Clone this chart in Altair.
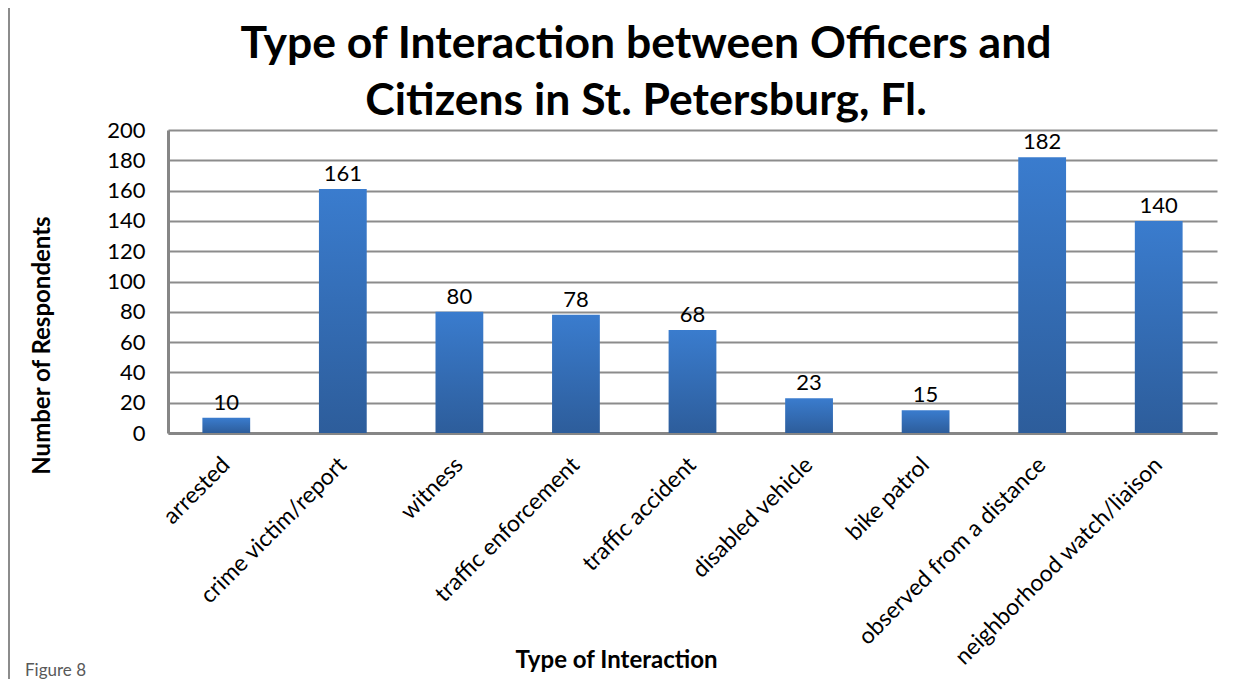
import altair as alt
import pandas as pd

categories = ["arrested", "crime victim/report", "witness", "traffic enforcement",
              "traffic accident", "disabled vehicle", "bike patrol",
              "observed from a distance", "neighborhood watch/liaison"]
respondents = [10, 161, 80, 78, 68, 23, 15, 182, 140]
y_ticks = [0, 20, 40, 60, 80, 100, 120, 140, 160, 180, 200]
title_lines = ["Type of Interaction between Officers and",
               "Citizens in St. Petersburg, Fl."]

df = pd.DataFrame({"type": categories, "n": respondents})
FONT = "Lato"

x_enc = alt.X("type:N", sort=categories,
              scale=alt.Scale(paddingInner=0.59, paddingOuter=0.295),
              axis=alt.Axis(title="Type of Interaction", labelAngle=-45,
                            labelAlign="right", labelBaseline="middle",
                            labelFontSize=23, labelFont=FONT, labelColor="#000000",
                            labelPadding=28, labelLimit=0, labelOverlap=False,
                            ticks=False, domainColor="#868686",
                            domainWidth=3, titleFont=FONT, titleFontSize=24,
                            titleFontWeight="bold", titleColor="#000000",
                            titleX=448, titleY=227, titleBaseline="middle",
                            titleAnchor="start", titleAlign="center"))
y_enc = alt.Y("n:Q", scale=alt.Scale(domain=[0, 200], nice=False),
              axis=alt.Axis(title="Number of Respondents", values=y_ticks,
                            labelFontSize=22, labelFont=FONT, labelColor="#000000",
                            labelPadding=23, labelOverlap=False, ticks=False,
                            domainColor="#868686",
                            domainWidth=3, grid=True, gridColor="#8c8c8c",
                            gridWidth=2, titleFont=FONT, titleFontSize=24,
                            titleFontWeight="bold", titleColor="#000000",
                            titleX=-126, titleY=215, titleAngle=-90,
                            titleBaseline="middle", titleAlign="center",
                            titleAnchor="start"))

grad = alt.Gradient(gradient="linear", x1=0, y1=0, x2=0, y2=1,
                    stops=[alt.GradientStop(offset=0, color="#3a7cce"),
                           alt.GradientStop(offset=1, color="#2d5d9b")])

bars = alt.Chart(df).mark_bar(color=grad).encode(x=x_enc, y=y_enc)
labels = alt.Chart(df).mark_text(font=FONT, fontSize=22, color="#000000",
                                 baseline="alphabetic", dy=-8).encode(
    x=x_enc, y=y_enc, text="n:Q")

one = pd.DataFrame({"t": ["Figure 8"]})
frame_left = alt.Chart(one).mark_rule(color="#8c8c8c", strokeWidth=2).encode(
    x=alt.value(-159), x2=alt.value(-159), y=alt.value(-122), y2=alt.value(549))
fig = alt.Chart(one).mark_text(font=FONT, fontSize=17, color="#595959",
                               align="left", baseline="alphabetic").encode(
    text="t:N", x=alt.value(-143), y=alt.value(546))

tdf = pd.DataFrame({"line": title_lines})
title1 = alt.Chart(tdf.iloc[[0]]).mark_text(
    font=FONT, fontSize=44.5, fontWeight="bold", color="#000000",
    align="center", baseline="alphabetic").encode(
    text="line:N", x=alt.value(478), y=alt.value(-72))
title2 = alt.Chart(tdf.iloc[[1]]).mark_text(
    font=FONT, fontSize=44.5, fontWeight="bold", color="#000000",
    align="center", baseline="alphabetic").encode(
    text="line:N", x=alt.value(478), y=alt.value(-15))

chart = alt.layer(frame_left, bars, labels, fig, title1, title2).properties(
    width=1049, height=303,
    autosize="none",
    padding={"left": 160, "top": 122, "right": 21, "bottom": 246},
).configure_view(stroke="transparent", strokeWidth=0)

chart.save("out.html", embed_options={"renderer": "svg", "actions": False})
